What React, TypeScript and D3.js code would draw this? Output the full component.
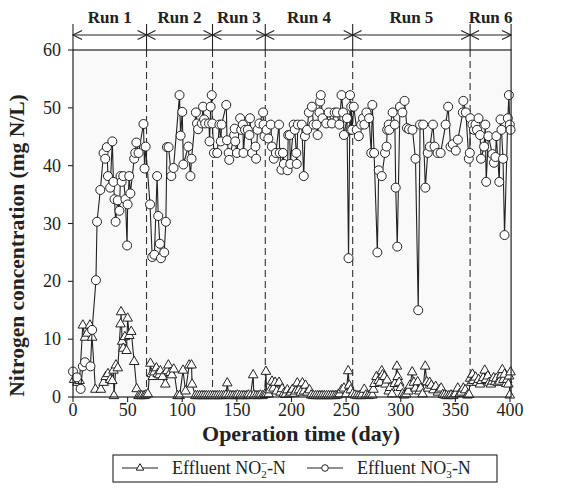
import React from 'react';
import * as d3 from 'd3';

// ---- Data ----
const runLabels = ['Run 1', 'Run 2', 'Run 3', 'Run 4', 'Run 5', 'Run 6'];
const runBounds = [0, 67.3, 127.7, 176, 256, 363.5, 401];
const xTicks = [0, 50, 100, 150, 200, 250, 300, 350, 400];
const yTicks = [0, 10, 20, 30, 40, 50, 60];

const nitrateDays = [
  0, 3.5, 7, 9, 11, 16, 17.5, 21, 22, 25, 28, 29.5, 31, 32, 34, 36, 37, 38, 39, 41, 42.5, 43.5, 44.5, 46, 48, 49.5, 50, 51.5, 52.5, 56, 57, 58, 60, 64.5, 65.5, 66.5,
  70.5, 72.5, 74.5, 77, 78, 79.5, 80.5, 83.5, 85, 86, 87.5, 90, 92, 97.5, 98.5, 100, 101, 105.5, 107.5, 108.5, 112.5, 113.5, 114.5, 118, 119, 120, 121, 124.5, 125, 126, 127, 127.5,
  129, 132, 134, 135.3, 136, 140.3, 141, 142.5, 143, 147.5, 148, 148.5, 150, 153, 154, 155.5, 156, 157.5, 160, 161.5, 162, 164, 167, 167.6, 169, 170.6, 174, 174.4, 175.3, 177.2,
  178.8, 181, 182.1, 183.8, 185.7, 188.6, 189.2, 190.8, 192.2, 193, 196.4, 197, 198.4, 198.9, 202, 203, 204.4, 204.8, 205.8, 209.4, 211.2, 212.3, 214.3, 215.9, 218.7, 220.1, 222.9, 223.9, 225.6, 226.2, 226.8, 228.4, 231.8, 234, 237, 239.5, 241.6, 243.8, 245.8, 247.2, 248, 250.8, 252.2, 253.6, 254.2, 254.7, 255.5,
  257, 259.7, 261.6, 263.8, 265.5, 266.7, 268.6, 271, 273, 274, 275.6, 278.6, 279.8, 282.6, 285.6, 287, 287.6, 289, 289.5, 292.6, 294.6, 295.4, 296.8, 299.3, 301.5, 303.5, 305.7, 307.6, 310.7, 313.5, 316, 317.7, 320.5, 322.5, 324.7, 326.7, 329.5, 330.9, 333.7, 336.5, 341.1, 343.4, 345.6, 347.6, 350.4, 352.3, 356.8, 357.3, 359.6, 362.3,
  363.2, 363.7, 365.6, 367, 368.4, 369.8, 371.2, 372.6, 373.5, 376.3, 377.4, 378.2, 380.2, 383.9, 385.3, 386.7, 387.5, 390.2, 391.3, 392.2, 393.6, 395, 398, 399, 399.8, 400.5,
];
const nitrateValues = [
  4.4, 3.4, 1.4, 5.3, 6, 5.3, 11.6, 20.2, 30.3, 35.8, 42.2, 41.2, 43.2, 38.2, 36.2, 44.2, 37.2, 34.2, 30.3, 34, 32.2, 38.2, 37.2, 38.2, 34.2, 26.2, 33.3, 38.2, 35.2, 41.2, 42.2, 44, 42.2, 47.2, 39.5, 43.3,
  33.3, 24.2, 24.6, 38.2, 31.3, 26.5, 24, 25, 30.3, 43.2, 43.2, 38.2, 39.6, 52.2, 45.2, 49.3, 40.2, 43.3, 38.2, 41.2, 49.2, 47.3, 46.3, 47.3, 50.2, 48, 47.3, 47.3, 44.2, 50.2, 52.2, 47.3,
  42.2, 42.2, 47.1, 44.2, 47.1, 50.5, 44.4, 42.2, 41, 45.3, 46.4, 44.2, 42.2, 48.2, 46.2, 47.1, 42.2, 46.2, 46.2, 45.3, 48.2, 42.2, 43.3, 41.2, 46.2, 47.3, 49.2, 47.1, 45.1, 46.2,
  44.7, 47.1, 43.3, 41.2, 42.2, 47.1, 42.2, 39.3, 42.2, 40.3, 39.2, 45.3, 45.3, 40.3, 47.1, 46.2, 42.2, 40.3, 47.1, 47.1, 38.2, 45.1, 46.2, 49.2, 50.2, 47.1, 47.1, 45.3, 49.2, 51.1, 52.2, 48.2, 47.3, 49.2, 47.3, 49.2, 49.2, 47.1, 52.2, 49.2, 45.3, 48.2, 24, 52.2, 46.2, 50.2, 46.2,
  50.2, 46.2, 45.1, 47.1, 48.2, 47.1, 49.2, 48.2, 42.2, 50.5, 42.2, 25, 39.2, 38.2, 42.2, 43.3, 46.2, 47.1, 46.2, 49.2, 47.1, 36.2, 26, 50.2, 49.2, 51.2, 46.5, 46.3, 46.2, 41.2, 15, 47.1, 47.1, 36.2, 42.2, 43.3, 47.1, 43.3, 42.2, 42.2, 47.1, 50.2, 43.3, 43.7, 42.6, 44.5, 49.2, 51.2, 49.2, 41.2,
  42.2, 48.2, 47.1, 46.2, 47.1, 46.2, 48.2, 45.3, 41.2, 43.3, 47.1, 37.2, 45.1, 42, 40.5, 41.5, 45.1, 37.2, 48, 46.2, 41.2, 28, 48.2, 52.2, 47.1, 46.2,
];

const nitriteDays = [
  1, 4, 6, 9, 11, 13, 15.5, 17.5, 20.5, 25.5, 28, 30, 32, 34, 36, 37, 37.5, 39.3, 41, 43.5, 44, 45, 46, 47.5, 49, 50, 51.5, 53.3, 56, 58.3, 60, 61.5, 63, 65, 66.5,
  68.5, 70.9, 72, 73, 74.5, 76.3, 77.5, 79, 80, 82, 84.5, 86, 87.3, 89, 90.5, 92.2, 95.7, 97.6, 100.7, 103, 106.3, 108.5, 109, 112, 114, 116, 118, 120, 122, 124, 126,
  128, 130, 132, 134, 136, 138, 140, 141.2, 142.5, 144.5, 146.5, 148.5, 150.5, 152.5, 154.5, 156.5, 158.5, 160.5, 162.5, 164.9, 165.5, 167.5, 169.5, 171.5, 173.5, 175.5, 176.6,
  177.2, 179, 180.5, 182.2, 183.5, 185, 186.5, 188.6, 190, 191.4, 193, 194.5, 196.2, 198, 199.5, 201, 202.5, 204, 205.3, 206.8, 208.5, 210, 211.5, 212.8, 214.5, 216.5, 218, 220, 222, 224, 226, 228, 230, 232, 234, 236, 238, 240, 242, 244, 245.8, 248, 250, 251.9, 252.8, 254.2, 256,
  258, 260, 262, 264, 266.6, 268, 270, 272, 274, 275, 275.9, 277.8, 279.5, 281, 282.6, 283.3, 285, 286, 287.5, 289, 290.3, 292, 294.5, 296.5, 297.2, 298.5, 300, 301.5, 303, 305, 307, 308.5, 310.5, 312, 313.5, 315.5, 317, 318.3, 320, 322.4, 323.8, 325, 326.5, 328, 330, 332, 334, 335.5, 337, 338.5, 340, 342, 344, 346, 348, 350, 352.2, 354, 355.5, 357.3, 359, 361, 362.5,
  363.5, 364.5, 365.7, 366.5, 368.5, 370, 371.3, 372.5, 374, 375.5, 376.9, 378, 379.7, 381, 382.5, 383.9, 385, 386.5, 387.5, 389, 390.5, 392, 393, 394, 395, 396.5, 397.5, 398.5, 399.2, 399.8, 400.5,
];
const nitriteValues = [
  3, 2.5, 2.8, 12.4, 10.3, 11, 12.4, 10.3, 1.3, 1.3, 2.5, 3.5, 4, 3, 2.8, 4.6, 0.2, 5.5, 5, 12.6, 14.7, 9.6, 8.4, 10.4, 8, 13.6, 10.6, 11.3, 6.1, 1.4, 0.2, 0.2, 0.2, 0.2, 0.3,
  0.5, 5.8, 4, 3.5, 4.3, 5, 4, 3.8, 4.5, 3.5, 2.2, 4.5, 5.5, 4.2, 3.8, 4.8, 0.2, 0.2, 4.6, 1, 5.5, 5.5, 2.2, 0.2, 0.2, 0.2, 0.2, 0.2, 0.2, 0.2, 0.2,
  0.2, 0.2, 0.2, 0.2, 0.2, 0.2, 0.3, 2.4, 0.3, 0.2, 0.2, 0.2, 0.3, 0.2, 0.2, 0.2, 0.2, 0.3, 0.2, 3.8, 0.3, 0.2, 0.2, 0.3, 0.2, 0.4, 4.4,
  0.5, 0.5, 1.2, 2.7, 1.5, 2.5, 1, 2.5, 0.8, 1.4, 0.6, 0.4, 1.2, 0.5, 0.8, 1.3, 0.6, 1, 2.4, 1.2, 0.8, 2.4, 1, 2, 0.8, 1.2, 0.3, 0.2, 0.2, 0.2, 0.2, 0.2, 0.2, 0.2, 0.2, 0.2, 0.2, 0.2, 0.3, 0.5, 1.2, 1.5, 0.5, 4.5, 2, 1.2, 0.5,
  0.3, 0.2, 0.2, 0.2, 1.3, 0.3, 0.2, 0.3, 0.3, 1.3, 2.3, 3.5, 2.8, 2.5, 4.5, 3.8, 3.5, 2.2, 2.9, 1, 1.6, 0.5, 2.3, 5.3, 3.5, 2.5, 1.6, 0.5, 0.3, 0.5, 1, 2, 4.3, 2.5, 1.5, 2.6, 1, 1.5, 0.5, 5.3, 2.6, 1.5, 2.5, 2, 1.2, 1.8, 0.8, 1.2, 1.5, 0.4, 0.3, 0.2, 0.2, 0.3, 0.2, 0.5, 1.5, 0.6, 0.8, 1.5, 1.2, 0.3, 0.4,
  3.2, 2.5, 3.9, 2.8, 3.4, 2.5, 3, 2.2, 2.8, 3.3, 4.6, 3, 3.6, 2.5, 2.2, 2.7, 3.3, 2.6, 3.2, 2.5, 2.7, 3.8, 4.7, 3, 3.9, 2.3, 3, 2.2, 3.6, 0.3, 4.3,
];

// ---- Layout ----
const W = 565;
const H = 504;
const FONT = '"Liberation Serif", "Times New Roman", Times, serif';
const INK = '#222';

const x = d3.scaleLinear().domain([0, 400]).range([73, 510]);
const y = d3.scaleLinear().domain([0, 60]).range([397, 50]);
const left = x(0);
const right = x(runBounds[runBounds.length - 1]);
const top = y(60);
const bottom = y(0);
const bracketY = 35;

function zip(days: number[], vals: number[]) {
  return days.map((d, i) => [d, vals[i]] as [number, number]);
}

const txt = { fontFamily: FONT } as React.CSSProperties;

export default function App() {
  const no2 = zip(nitriteDays, nitriteValues);
  const no3 = zip(nitrateDays, nitrateValues);
  const line = d3.line<[number, number]>().x((d) => x(d[0])).y((d) => y(d[1]));
  const tri = d3.symbol().type(d3.symbolTriangle).size(40)() as string;
  const triSmall = d3.symbol().type(d3.symbolTriangle).size(24)() as string;

  return (
    <svg width={W} height={H} style={{ position: 'absolute', left: 0, top: 0, background: '#fff', fontFamily: FONT }}>
      <rect x={left} y={top} width={right - left} height={bottom - top} fill="#f9f9f9" />

      {/* run dividers */}
      {runBounds.slice(1, -1).map((b, i) => (
        <line key={'dv' + i} x1={x(b)} x2={x(b)} y1={top} y2={bottom} stroke="#333" strokeWidth={1.1} strokeDasharray="7,4" />
      ))}

      {/* bracket */}
      <line x1={left} x2={right} y1={bracketY} y2={bracketY} stroke={INK} strokeWidth={1.1} />
      {runBounds.map((b, i) => (
        <g key={'br' + i} stroke={INK} strokeWidth={1.1} fill="none">
          <line x1={x(b)} x2={x(b)} y1={24} y2={top} />
          {i > 0 && <path d={`M${x(b) - 9},${bracketY - 4.5}L${x(b)},${bracketY}L${x(b) - 9},${bracketY + 4.5}`} />}
          {i < runBounds.length - 1 && <path d={`M${x(b) + 9},${bracketY - 4.5}L${x(b)},${bracketY}L${x(b) + 9},${bracketY + 4.5}`} />}
        </g>
      ))}
      {runLabels.map((r, i) => (
        <text key={'rl' + i} style={txt} x={(x(runBounds[i]) + x(runBounds[i + 1])) / 2} y={23} textAnchor="middle" fontWeight="bold" fontSize={17} fill={INK}>
          {r}
        </text>
      ))}

      {/* series */}
      <path d={line(no2) as string} fill="none" stroke={INK} strokeWidth={1.1} />
      {no2.map((d, i) => (
        <path key={'t' + i} d={tri} transform={`translate(${x(d[0])},${y(d[1])})`} fill="#fff" stroke={INK} strokeWidth={1} />
      ))}
      <path d={line(no3) as string} fill="none" stroke={INK} strokeWidth={1.1} />
      {no3.map((d, i) => (
        <circle key={'c' + i} cx={x(d[0])} cy={y(d[1])} r={4.5} fill="#fff" stroke={INK} strokeWidth={1} />
      ))}

      {/* frame */}
      <rect x={left} y={top} width={right - left} height={bottom - top} fill="none" stroke={INK} strokeWidth={1.2} />

      {/* axes */}
      {yTicks.map((t) => (
        <g key={'yt' + t}>
          <line x1={left - 5} x2={left} y1={y(t)} y2={y(t)} stroke={INK} strokeWidth={1.1} />
          <text style={txt} x={left - 12} y={y(t) + 6} textAnchor="end" fontSize={18} fill={INK}>{t}</text>
        </g>
      ))}
      {xTicks.map((t) => (
        <g key={'xt' + t}>
          <line x1={x(t)} x2={x(t)} y1={bottom} y2={bottom + 5} stroke={INK} strokeWidth={1.1} />
          <text style={txt} x={x(t)} y={416} textAnchor="middle" fontSize={18} fill={INK}>{t}</text>
        </g>
      ))}
      <text style={txt} x={301} y={441} textAnchor="middle" fontSize={22} fontWeight="bold" fill={INK}>
        Operation time (day)
      </text>
      <text style={txt} transform={`translate(24,${(top + bottom) / 2 + 22}) rotate(-90)`} textAnchor="middle" fontSize={21.5} fontWeight="bold" fill={INK}>
        Nitrogen concentration (mg N/L)
      </text>

      {/* legend */}
      <rect x={113} y={455} width={384} height={27} fill="#fff" stroke={INK} strokeWidth={1.1} />
      <line x1={122} x2={158} y1={468} y2={468} stroke={INK} strokeWidth={1.1} />
      <path d={triSmall} transform="translate(140,468)" fill="#fff" stroke={INK} strokeWidth={1} />
      <text style={txt} x={172} y={474} fontSize={18} fill={INK}>
        <tspan>Effluent NO</tspan>
        <tspan fontSize={11} dy={4}>2</tspan>
        <tspan fontSize={11} dx={-6} dy={-11}>−</tspan>
        <tspan dy={7}>-N</tspan>
      </text>
      <line x1={307} x2={343} y1={468} y2={468} stroke={INK} strokeWidth={1.1} />
      <circle cx={325} cy={468} r={3.3} fill="#fff" stroke={INK} strokeWidth={1} />
      <text style={txt} x={357} y={474} fontSize={18} fill={INK}>
        <tspan>Effluent NO</tspan>
        <tspan fontSize={11} dy={4}>3</tspan>
        <tspan fontSize={11} dx={-6} dy={-11}>−</tspan>
        <tspan dy={7}>-N</tspan>
      </text>
    </svg>
  );
}
